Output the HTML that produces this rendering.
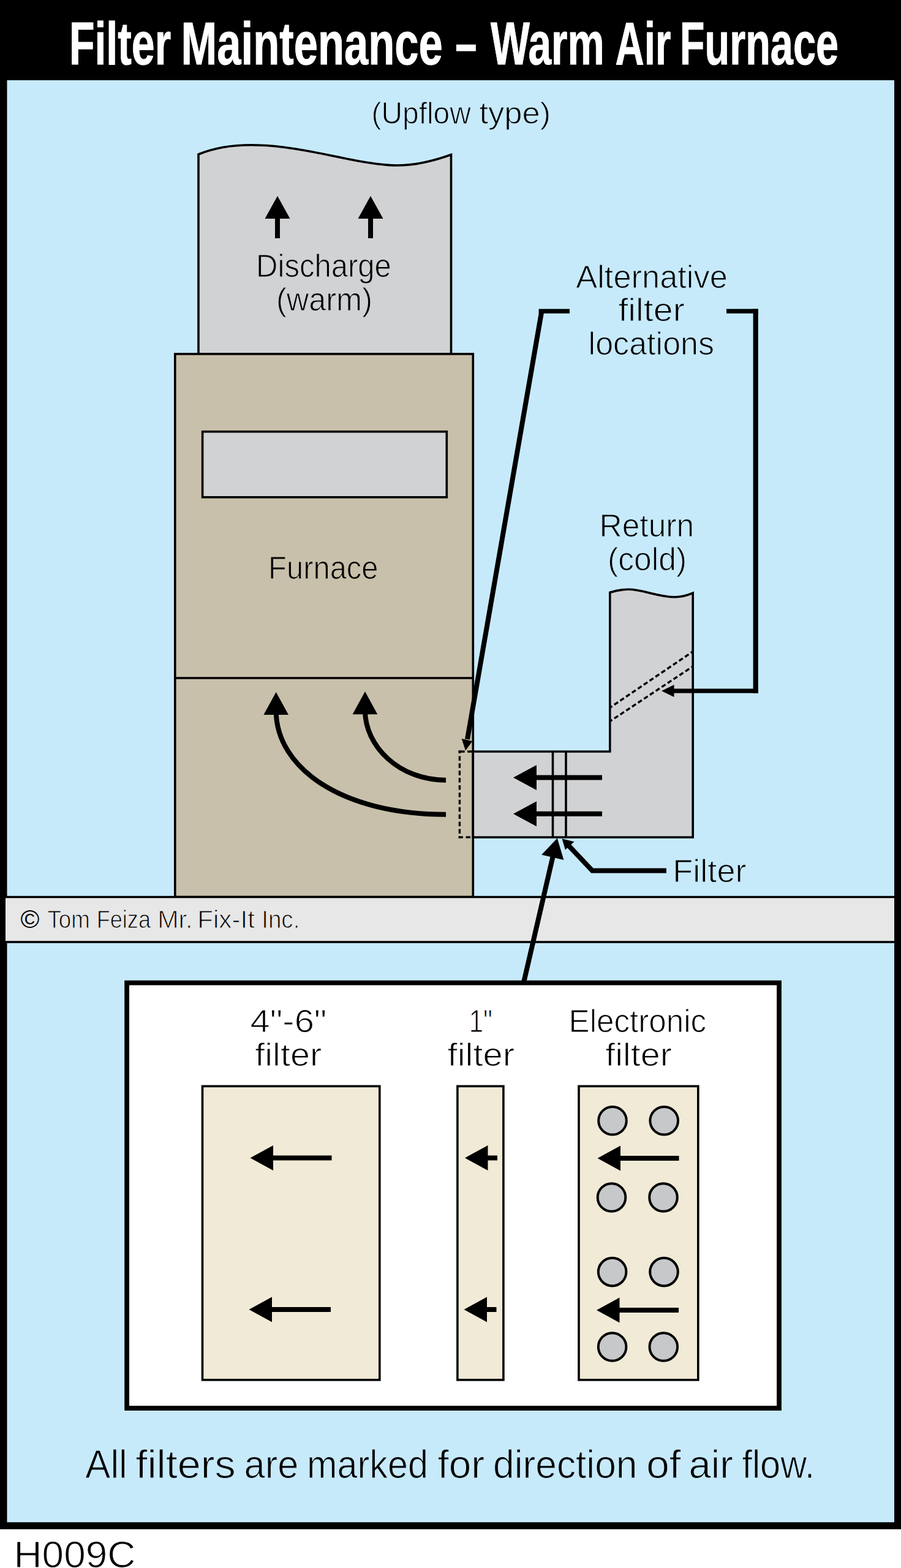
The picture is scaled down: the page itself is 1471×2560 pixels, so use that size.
<!DOCTYPE html>
<html lang="en">
<head>
<meta charset="utf-8">
<title>Filter Maintenance – Warm Air Furnace</title>
<style>
html,body{margin:0;padding:0;background:#fff;}
body{width:1471px;height:2560px;}
svg{display:block;}
text{font-family:"Liberation Sans",sans-serif;fill:#000;stroke-width:1.1;stroke-linejoin:round;}
.t{font-family:"Liberation Sans",sans-serif;font-weight:bold;fill:#fff;stroke:#fff;stroke-width:1;}
.b{stroke:#c7eafb;}
.g{stroke:#d1d2d4;}
.n{stroke:#c8c0aa;}
.w{stroke:#fff;}
.e{stroke:#e7e7e7;}
.k{stroke:#000;stroke-width:3.6;}
.a{fill:none;stroke:#000;stroke-width:8;}
.h{fill:#000;stroke:none;}
.d{fill:none;stroke:#000;stroke-width:3.4;}
</style>
</head>
<body>
<svg width="1471" height="2560" viewBox="0 0 1471 2560">
<!-- frame -->
<rect x="0" y="0" width="1471" height="2496.7" fill="#000"/>
<rect x="11.5" y="131" width="1448.5" height="2354.3" fill="#c7eafb"/>
<text class="t" y="105" font-size="99"><tspan x="113.0" textLength="166.1" lengthAdjust="spacingAndGlyphs">Filter</tspan> <tspan x="295.6" textLength="427.2" lengthAdjust="spacingAndGlyphs">Maintenance</tspan> <tspan x="743.3" textLength="35.3" lengthAdjust="spacingAndGlyphs">–</tspan> <tspan x="801.0" textLength="185.6" lengthAdjust="spacingAndGlyphs">Warm</tspan> <tspan x="1004.6" textLength="90.7" lengthAdjust="spacingAndGlyphs">Air</tspan> <tspan x="1109.8" textLength="259.2" lengthAdjust="spacingAndGlyphs">Furnace</tspan></text>

<!-- subtitle -->
<text class="b" y="201.6" font-size="50"><tspan x="606.5" textLength="162.3" lengthAdjust="spacingAndGlyphs">(Upflow</tspan> <tspan x="782.5" textLength="116.8" lengthAdjust="spacingAndGlyphs">type)</tspan></text>

<!-- discharge duct -->
<path class="k" fill="#d1d2d4" d="M324 578 L324 252 C356 239,390 236,420 237 C470 238,520 250,570 260 C600 266,625 270,648 270 C680 270,710 262,736.5 252.5 L736.5 578 Z"/>
<!-- furnace -->
<rect class="k" fill="#c8c0aa" x="285.8" y="577.9" width="486.5" height="886.6"/>
<line class="k" x1="285.8" y1="1107" x2="772.3" y2="1107"/>
<rect class="k" fill="#d1d2d4" x="330.6" y="704.7" width="398.7" height="107.1"/>

<!-- up arrows in duct -->
<path class="h" d="M453 320 L473.5 357 L432.5 357 Z"/>
<rect class="h" x="449" y="355" width="8" height="34"/>
<path class="h" d="M605 320 L625.5 357 L584.5 357 Z"/>
<rect class="h" x="601" y="355" width="8" height="34"/>
<text class="g" y="452.3" font-size="51"><tspan x="418.1" textLength="220.8" lengthAdjust="spacingAndGlyphs">Discharge</tspan></text>
<text class="g" y="507.3" font-size="51"><tspan x="450.9" textLength="157.1" lengthAdjust="spacingAndGlyphs">(warm)</tspan></text>
<text class="n" y="945.2" font-size="51"><tspan x="438.1" textLength="179.4" lengthAdjust="spacingAndGlyphs">Furnace</tspan></text>

<!-- curved arrows in furnace -->
<path class="a" d="M728 1329.7 C557.2 1329.7,450.7 1253.5,450.7 1160"/>
<path class="h" d="M450.7 1130 L471 1167 L430.4 1167 Z"/>
<path class="a" d="M728 1273.7 C651.1 1273.7,596 1218,596 1160"/>
<path class="h" d="M596 1129 L616.3 1166.3 L575.6 1166.3 Z"/>

<!-- return duct -->
<path class="k" fill="#d1d2d4" d="M772.3 1227 L995.8 1227 L995.8 967.3 C1006 964,1016 962.3,1026 962.3 C1050 962.3,1074 974.8,1102 974.8 C1113 974.8,1122.5 972,1131.2 968.2 L1131.2 1367 L772.3 1367 Z"/>
<!-- dashed diagonal filter -->
<path class="d" d="M995.8 1155.3 L1131.2 1063.7 M995.8 1177.7 L1131.2 1088" stroke-dasharray="7.4 4.2" stroke-dashoffset="3"/>
<!-- filter slot -->
<path class="k" fill="none" d="M902.5 1227 V1367 M924 1227 V1367"/>
<!-- dashed rect -->
<path class="d" d="M750.4 1225.3 V1368.6" stroke-dasharray="7.5 4.4" stroke-dashoffset="2.8"/>
<path class="d" d="M748.7 1227 H772" stroke-dasharray="10 4.4 7.5 4.4"/>
<path class="d" d="M748.7 1366.9 H772" stroke-dasharray="7.2 4.7 7.5 10"/>
<!-- duct arrows -->
<path class="h" d="M838 1269.5 L876 1249 L876 1290 Z"/>
<rect class="h" x="874" y="1265.5" width="109" height="8"/>
<path class="h" d="M838 1328.7 L876 1308.2 L876 1349.2 Z"/>
<rect class="h" x="874" y="1324.7" width="109" height="8"/>

<!-- alternative filter locations -->
<text class="b" y="469.7" font-size="51"><tspan x="940.3" textLength="247.5" lengthAdjust="spacingAndGlyphs">Alternative</tspan></text>
<text class="b" y="523.5" font-size="51"><tspan x="1009.4" textLength="108.4" lengthAdjust="spacingAndGlyphs">filter</tspan></text>
<text class="b" y="579.2" font-size="51"><tspan x="960.6" textLength="205.5" lengthAdjust="spacingAndGlyphs">locations</tspan></text>
<path class="a" d="M884.4 508 L763 1207"/>
<rect class="h" x="879.6" y="504.4" width="50.4" height="7.3"/>
<path class="h" d="M760 1225.6 L753.7 1206 L771.3 1210 Z"/>
<rect class="h" x="1186" y="504.4" width="51.8" height="7.3"/>
<rect class="h" x="1229.6" y="504.4" width="8.2" height="627.2"/>
<rect class="h" x="1098" y="1124.4" width="139.8" height="7.2"/>
<path class="h" d="M1080 1128 L1100.5 1118 L1100.5 1138 Z"/>

<!-- Return (cold) -->
<text class="b" y="876.3" font-size="51"><tspan x="978.5" textLength="154.6" lengthAdjust="spacingAndGlyphs">Return</tspan></text>
<text class="b" y="931" font-size="51"><tspan x="992.0" textLength="129.3" lengthAdjust="spacingAndGlyphs">(cold)</tspan></text>

<!-- Filter label -->
<text class="b" y="1439.8" font-size="51"><tspan x="1098.3" textLength="120.2" lengthAdjust="spacingAndGlyphs">Filter</tspan></text>
<path class="a" d="M1088 1421.5 H967 L925 1377"/>
<path class="h" d="M917.5 1369.3 L937.5 1374.3 L922.9 1387.5 Z"/>

<!-- ground band -->
<rect x="9" y="1464.5" width="1451" height="73.5" fill="#e7e7e7"/>
<path class="k" fill="none" d="M9 1464.5 H1460 M9 1538 H1460"/>
<text class="e" y="1515.2" font-size="41" stroke-width="0.9"><tspan x="33.4" textLength="30.8" lengthAdjust="spacingAndGlyphs" stroke="none">©</tspan> <tspan x="77.5" textLength="69.4" lengthAdjust="spacingAndGlyphs">Tom</tspan> <tspan x="157.7" textLength="88.3" lengthAdjust="spacingAndGlyphs">Feiza</tspan> <tspan x="257.2" textLength="57.3" lengthAdjust="spacingAndGlyphs">Mr.</tspan> <tspan x="322.2" textLength="93.7" lengthAdjust="spacingAndGlyphs">Fix-It</tspan> <tspan x="427.2" textLength="62.2" lengthAdjust="spacingAndGlyphs">Inc.</tspan></text>

<!-- arrow from box to filter -->
<path class="a" stroke-width="8.6" d="M854.8 1605 L902.5 1399"/>
<path class="h" d="M909.8 1368.6 L920.4 1403.9 L884.2 1395.5 Z"/>

<!-- white box -->
<rect x="207.1" y="1604.6" width="1064.9" height="694.5" fill="#fff" stroke="#000" stroke-width="7.8"/>
<text class="w" y="1684.6" font-size="51"><tspan x="408.6" textLength="124.8" lengthAdjust="spacingAndGlyphs">4"-6"</tspan></text>
<text class="w" y="1739.8" font-size="51"><tspan x="416.3" textLength="108.9" lengthAdjust="spacingAndGlyphs">filter</tspan></text>
<text class="w" y="1684.6" font-size="51"><tspan x="765.7" textLength="38.2" lengthAdjust="spacingAndGlyphs">1"</tspan></text>
<text class="w" y="1739.8" font-size="51"><tspan x="730.6" textLength="109.5" lengthAdjust="spacingAndGlyphs">filter</tspan></text>
<text class="w" y="1684.6" font-size="51"><tspan x="928.5" textLength="224.7" lengthAdjust="spacingAndGlyphs">Electronic</tspan></text>
<text class="w" y="1739.8" font-size="51"><tspan x="988.3" textLength="108.7" lengthAdjust="spacingAndGlyphs">filter</tspan></text>

<rect class="k" fill="#f1ead6" x="330.5" y="1773.4" width="289.3" height="479.5"/>
<rect class="k" fill="#f1ead6" x="746.9" y="1773.4" width="75" height="479.5"/>
<rect class="k" fill="#f1ead6" x="945" y="1773.4" width="194.8" height="479.5"/>

<path class="h" d="M408.5 1890.5 L446 1870 L446 1911 Z"/><rect class="h" x="444" y="1886.5" width="97.5" height="8"/>
<path class="h" d="M406.5 2138 L444 2117.5 L444 2158.5 Z"/><rect class="h" x="442" y="2134" width="98" height="8"/>
<path class="h" d="M759 1890.5 L796.5 1870 L796.5 1911 Z"/><rect class="h" x="794" y="1886.5" width="18" height="8"/>
<path class="h" d="M757.5 2138 L795 2117.5 L795 2158.5 Z"/><rect class="h" x="793" y="2134" width="17.5" height="8"/>
<path class="h" d="M975.5 1891 L1013 1870.5 L1013 1911.5 Z"/><rect class="h" x="1011" y="1887" width="97.5" height="8"/>
<path class="h" d="M974 2139 L1011.5 2118.5 L1011.5 2159.5 Z"/><rect class="h" x="1009.5" y="2135" width="98.5" height="8"/>

<g fill="#c7c8ca" stroke="#000" stroke-width="4">
<circle cx="1000" cy="1829.8" r="22.8"/><circle cx="1084.2" cy="1829.8" r="22.8"/>
<circle cx="998.5" cy="1955" r="22.8"/><circle cx="1083" cy="1955" r="22.8"/>
<circle cx="999.6" cy="2076.6" r="22.8"/><circle cx="1084" cy="2076.6" r="22.8"/>
<circle cx="999.6" cy="2199" r="22.8"/><circle cx="1083.3" cy="2199" r="22.8"/>
</g>

<text class="b" y="2412.8" font-size="64" stroke-width="1.5"><tspan x="139.3" textLength="68.5" lengthAdjust="spacingAndGlyphs">All</tspan> <tspan x="221.4" textLength="163.4" lengthAdjust="spacingAndGlyphs">filters</tspan> <tspan x="398.5" textLength="88.9" lengthAdjust="spacingAndGlyphs">are</tspan> <tspan x="501.0" textLength="198.0" lengthAdjust="spacingAndGlyphs">marked</tspan> <tspan x="714.6" textLength="76.6" lengthAdjust="spacingAndGlyphs">for</tspan> <tspan x="805.0" textLength="235.5" lengthAdjust="spacingAndGlyphs">direction</tspan> <tspan x="1055.3" textLength="56.3" lengthAdjust="spacingAndGlyphs">of</tspan> <tspan x="1124.5" textLength="72.4" lengthAdjust="spacingAndGlyphs">air</tspan> <tspan x="1211.4" textLength="118.9" lengthAdjust="spacingAndGlyphs">flow.</tspan></text>
<text class="w" y="2559.2" font-size="61" stroke-width="1.5"><tspan x="22.5" textLength="198.8" lengthAdjust="spacingAndGlyphs">H009C</tspan></text>
</svg>
</body>
</html>
